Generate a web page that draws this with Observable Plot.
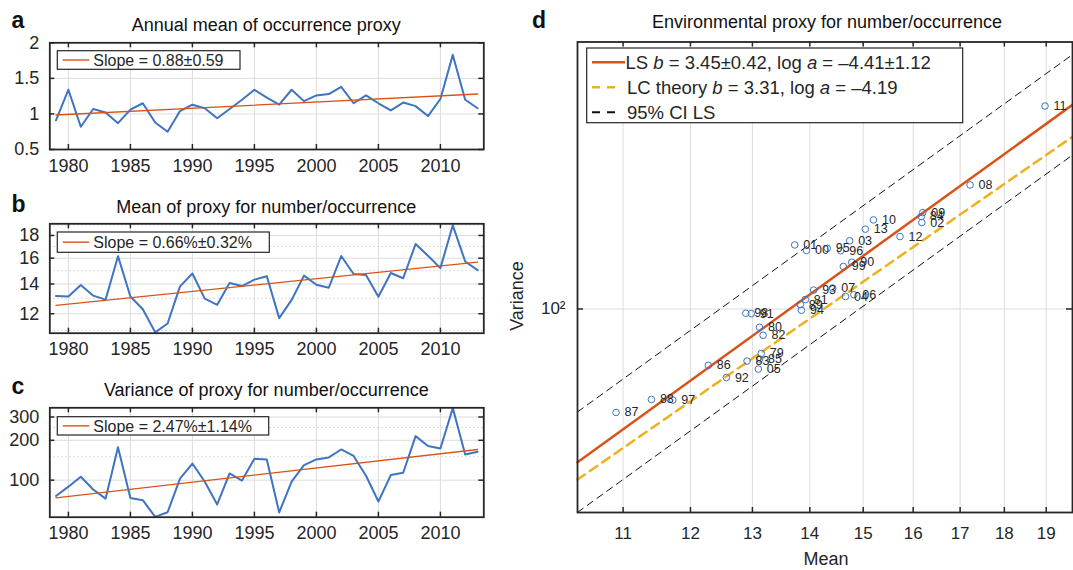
<!DOCTYPE html>
<html><head><meta charset="utf-8">
<script src="https://cdn.jsdelivr.net/npm/d3@7"></script>
<script src="https://cdn.jsdelivr.net/npm/@observablehq/plot@0.6"></script>
<style>
html,body{margin:0;padding:0;background:#fff;}
#root{position:relative;width:1073px;height:570px;overflow:hidden;background:#fff;}
.panel{position:absolute;}
.panel svg{overflow:visible;display:block;}
</style></head><body><div id="root"></div>
<script>
// ---------- data ----------
const years = [1979,1980,1981,1982,1983,1984,1985,1986,1987,1988,1989,1990,1991,1992,1993,1994,1995,1996,1997,1998,1999,2000,2001,2002,2003,2004,2005,2006,2007,2008,2009,2010,2011,2012,2013];
const annualMean = [0.91,1.34,0.82,1.07,1.02,0.87,1.06,1.15,0.88,0.75,1.04,1.13,1.08,0.94,1.07,1.20,1.34,1.23,1.13,1.34,1.18,1.26,1.28,1.38,1.15,1.26,1.15,1.05,1.16,1.11,0.97,1.21,1.83,1.20,1.08];
const meanProxy = [13.15,13.12,13.92,13.18,12.91,16.17,13.12,12.28,10.9,11.41,13.83,14.78,12.98,12.57,14.07,13.85,14.32,14.57,11.73,12.89,14.62,13.94,13.73,16.18,14.74,14.66,13.1,14.82,14.42,17.22,16.2,15.2,18.97,15.73,15.04];
const varProxy = [76,89.3,106,85,72.5,177,73.4,70.6,52.8,57.2,102.8,133.5,97.2,65.5,112.4,99.2,145.3,143.3,57,97.4,130,143.5,148.5,170.5,152.3,108,69,109.2,113.8,215,181.3,173.3,350,156.4,163.7];
const trendYears = [1979, 2013];
const trendAnnual = [0.985, 1.28];
const trendMean = [12.53, 15.68];
const trendVar = [73.4, 170.4];
const yearTicks = [1980,1985,1990,1995,2000,2005,2010];
const aTicks = [0.5,1,1.5,2];
const bTicks = [12,14,16,18];
const bMinor = [11,13,15,17,19];
const cTicks = [100,200,300];
const cMinor = [150,250];
const dXTicks = [11,12,13,14,15,16,17,18,19];
const dYTicks = [100];
const lsFit = {b: 3.45, loga: -4.41};
const lcFit = {b: 3.31, loga: -4.19};
const ciHalf = 0.31;

// ---------- style ----------
const FONT = '"Liberation Sans", Arial, Helvetica, sans-serif';
const INK = "#262626", BLUE = "#3e74c2", RED = "#D95319", YEL = "#EDB120", GRID = "#dcdcdc";
const root = document.getElementById("root");
function place(node, left, top){
  const d = document.createElement("div");
  d.className = "panel"; d.style.left = left + "px"; d.style.top = top + "px";
  d.appendChild(node); root.appendChild(d);
}

function tsPanel({values, trend, yType, yDomain, yTicks, yMinor, mT, mB}) {
  const W = 500, H = 150, mL = 49.3, mR = 16.7;
  const fh = H - mT - mB, fw = W - mL - mR;
  const rows = years.map((y, i) => ({year: y, v: values[i]}));
  const tr = trendYears.map((y, i) => ({year: y, v: trend[i]}));
  return Plot.plot({
    width: W, height: H, marginLeft: mL, marginRight: mR, marginTop: mT, marginBottom: mB,
    style: {fontFamily: FONT, fontSize: "18px", color: INK, background: "transparent", overflow: "visible"},
    x: {domain: [1978.5, 2013.5]},
    y: {type: yType, domain: yDomain},
    marks: [
      Plot.gridX(yearTicks, {stroke: GRID, strokeOpacity: 1}),
      Plot.gridY(yMinor, {stroke: "#d0d0d0", strokeOpacity: 1, strokeDasharray: "1.5,2.5"}),
      Plot.gridY(yTicks, {stroke: GRID, strokeOpacity: 1}),
      Plot.line(rows, {x: "year", y: "v", stroke: BLUE, strokeWidth: 2}),
      Plot.line(tr, {x: "year", y: "v", stroke: RED, strokeWidth: 1.3}),
      Plot.ruleX(yearTicks, {insetTop: fh - 5, stroke: INK, strokeWidth: 1.5}),
      Plot.ruleX(yearTicks, {insetBottom: fh - 5, stroke: INK, strokeWidth: 1.5}),
      Plot.ruleY(yTicks, {insetRight: fw - 5, stroke: INK, strokeWidth: 1.5}),
      Plot.ruleY(yTicks, {insetLeft: fw - 5, stroke: INK, strokeWidth: 1.5}),
      Plot.frame({stroke: INK, strokeWidth: 1.8}),
      Plot.axisX(yearTicks, {tickSize: 0, tickPadding: 9.5, tickFormat: d => String(d), label: null, fontSize: 18}),
      Plot.axisY(yTicks, {tickSize: 0, tickPadding: 10.5, tickFormat: d => String(d), label: null, fontSize: 18})
    ]
  });
}

place(tsPanel({values: annualMean, trend: trendAnnual, yType: "linear", yDomain: [0.5, 2], yTicks: aTicks, yMinor: [], mT: 12.3, mB: 31}), 0, 30);
place(tsPanel({values: meanProxy, trend: trendMean, yType: "log", yDomain: [10.85, 19.12], yTicks: bTicks, yMinor: bMinor, mT: 10.3, mB: 30.3}), 0, 213);
place(tsPanel({values: varProxy, trend: trendVar, yType: "log", yDomain: [52.5, 352], yTicks: cTicks, yMinor: cMinor, mT: 10.3, mB: 30.3}), 0, 397);

// ---------- panel d ----------
(function(){
  const W = 573, H = 540, mL = 77, mR = 1, mT = 11.5, mB = 58;
  const fh = H - mT - mB, fw = W - mL - mR;
  const xDom = [10.371, 19.656], yDom = [28.47, 519.7];
  const pts = years.map((y, i) => ({M: meanProxy[i], V: varProxy[i], lab: String(y).slice(2)}));
  const fit = (f, off) => xDom.map(M => ({M, V: Math.exp(f.loga + f.b * Math.log(M) + off)}));
  const svg = Plot.plot({
    width: W, height: H, marginLeft: mL, marginRight: mR, marginTop: mT, marginBottom: mB,
    style: {fontFamily: FONT, fontSize: "17px", color: INK, background: "transparent", overflow: "visible"},
    x: {type: "log", domain: xDom},
    y: {type: "log", domain: yDom},
    marks: [
      Plot.gridX(dXTicks, {stroke: GRID, strokeOpacity: 1}),
      Plot.gridY(dYTicks, {stroke: GRID, strokeOpacity: 1}),
      Plot.line(fit(lsFit, ciHalf), {x: "M", y: "V", stroke: "#111", strokeWidth: 1, strokeDasharray: "7,5"}),
      Plot.line(fit(lsFit, -ciHalf), {x: "M", y: "V", stroke: "#111", strokeWidth: 1, strokeDasharray: "7,5"}),
      Plot.line(fit(lcFit, 0), {x: "M", y: "V", stroke: YEL, strokeWidth: 2.5, strokeDasharray: "9,6"}),
      Plot.line(fit(lsFit, 0), {x: "M", y: "V", stroke: RED, strokeWidth: 2.5}),
      Plot.dot(pts, {x: "M", y: "V", r: 3.3, stroke: BLUE, fill: "none", strokeWidth: 1}),
      Plot.text(pts, {x: "M", y: "V", text: "lab", dx: 8.5, textAnchor: "start", fontSize: 12.5, fill: INK}),
      Plot.ruleX(dXTicks, {insetTop: fh - 5, stroke: INK, strokeWidth: 1.5}),
      Plot.ruleX(dXTicks, {insetBottom: fh - 5, stroke: INK, strokeWidth: 1.5}),
      Plot.ruleY(dYTicks, {insetRight: fw - 6, stroke: INK, strokeWidth: 1.5}),
      Plot.ruleY(dYTicks, {insetLeft: fw - 6, stroke: INK, strokeWidth: 1.5}),
      Plot.frame({stroke: INK, strokeWidth: 1.8}),
      Plot.axisX(dXTicks, {tickSize: 0, tickPadding: 14, tickFormat: d => String(d), label: null, fontSize: 17}),
      Plot.axisY(dYTicks, {tickSize: 0, tickPadding: 12, tickFormat: () => "10²", label: null, fontSize: 17})
    ]
  });
  place(svg, 500, 30);
})();

// ---------- overlay: titles, letters, legends ----------
const ov = d3.select(root).append("svg")
  .attr("width", 1073).attr("height", 570)
  .style("position", "absolute").style("left", 0).style("top", 0)
  .style("font-family", FONT).attr("fill", INK);

const letters = [["a", 11.5, 28], ["b", 11.5, 212], ["c", 11.5, 394], ["d", 532, 28]];
letters.forEach(([t, x, y]) => ov.append("text").attr("x", x).attr("y", y)
  .attr("font-size", 23).attr("font-weight", "bold").attr("fill", "#111").text(t));

const titles = [
  ["Annual mean of occurrence proxy", 266.3, 31],
  ["Mean of proxy for number/occurrence", 266.3, 213],
  ["Variance of proxy for number/occurrence", 266.3, 396],
  ["Environmental proxy for number/occurrence", 827, 28]
];
titles.forEach(([t, x, y]) => ov.append("text").attr("x", x).attr("y", y)
  .attr("font-size", 18).attr("text-anchor", "middle").attr("fill", "#111").text(t));

ov.append("text").attr("transform", "translate(523,296) rotate(-90)")
  .attr("font-size", 18).attr("text-anchor", "middle").text("Variance");
ov.append("text").attr("x", 826).attr("y", 565)
  .attr("font-size", 18).attr("text-anchor", "middle").text("Mean");

function smallLegend(x, y, w, h, label) {
  ov.append("rect").attr("x", x).attr("y", y).attr("width", w).attr("height", h)
    .attr("fill", "#fff").attr("stroke", INK).attr("stroke-width", 1.2);
  const cy = y + h / 2;
  ov.append("line").attr("x1", x + 5.4).attr("x2", x + 32).attr("y1", cy).attr("y2", cy)
    .attr("stroke", RED).attr("stroke-width", 1.4);
  ov.append("text").attr("x", x + 36).attr("y", cy + 5.7).attr("font-size", 16).text(label);
}
smallLegend(57.3, 50.7, 182.7, 18.6, "Slope = 0.88±0.59");
smallLegend(57.3, 232, 212, 20.3, "Slope = 0.66%±0.32%");
smallLegend(57.3, 416.7, 211.4, 18.3, "Slope = 2.47%±1.14%");

// legend d
ov.append("rect").attr("x", 586.7).attr("y", 48).attr("width", 376).attr("height", 74.7)
  .attr("fill", "#fff").attr("stroke", INK).attr("stroke-width", 1.2);
const rowsD = [
  {y: 62.3, stroke: RED, w: 2.5, dash: null, parts: [["LS ", 0], ["b", 1], [" = 3.45±0.42, log ", 0], ["a", 1], [" = –4.41±1.12", 0]]},
  {y: 87.3, stroke: YEL, w: 2.5, dash: "8,7", parts: [["LC theory ", 0], ["b", 1], [" = 3.31, log ", 0], ["a", 1], [" = –4.19", 0]]},
  {y: 112.3, stroke: "#111", w: 2, dash: "8,7", parts: [["95% CI LS", 0]]}
];
rowsD.forEach(r => {
  const ln = ov.append("line").attr("x1", 592).attr("x2", r.dash ? 618 : 625).attr("y1", r.y).attr("y2", r.y)
    .attr("stroke", r.stroke).attr("stroke-width", r.w);
  if (r.dash) ln.attr("stroke-dasharray", r.dash);
  const t = ov.append("text").attr("x", r.dash ? 627 : 625.5).attr("y", r.y + 6.5).attr("font-size", 18.5);
  r.parts.forEach(([s, it]) => t.append("tspan").attr("font-style", it ? "italic" : "normal").text(s));
});
</script>
</body></html>
